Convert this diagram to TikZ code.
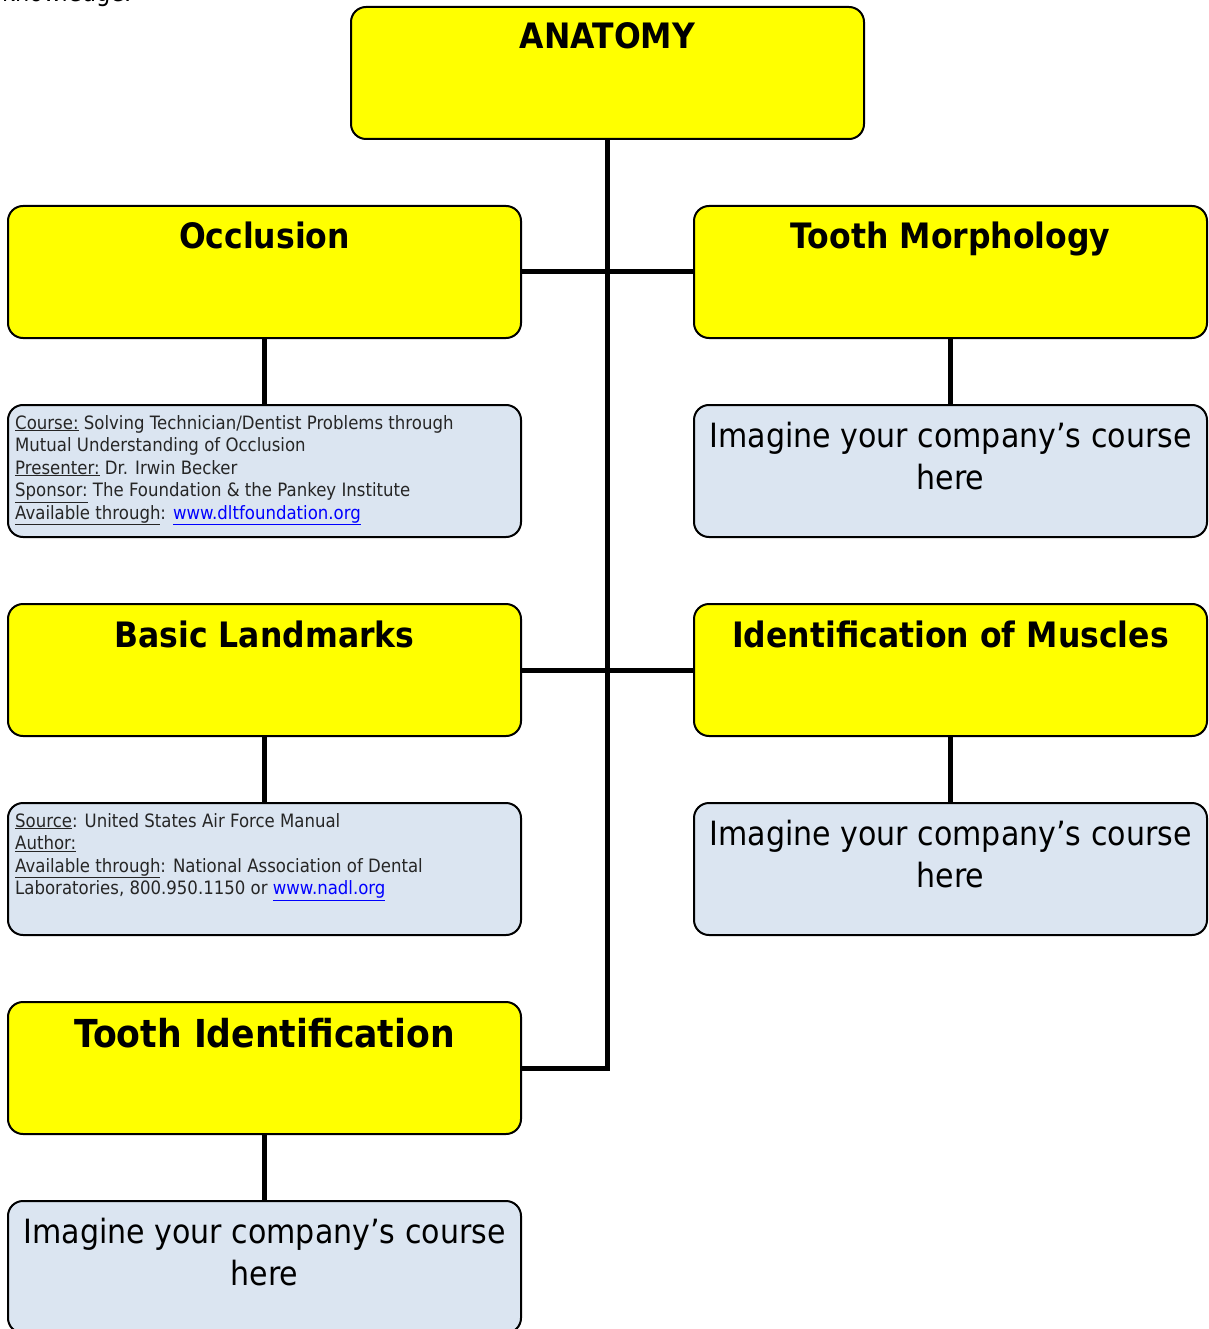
\documentclass[tikz,border=0pt]{standalone}
\usepackage{fontspec}
\setmainfont{DejaVu Sans}[FakeStretch=0.9]
\usetikzlibrary{positioning}
\definecolor{topicyellow}{RGB}{255,255,0}
\definecolor{infoblue}{RGB}{219,229,241}
\definecolor{linkblue}{RGB}{0,0,255}
\newcommand{\weblink}[1]{\textcolor{linkblue}{\underline{#1}}}
\tikzset{
  topicbox/.style={draw, line width=2pt, rounded corners=15pt, fill=topicyellow, minimum width=513pt, minimum height=132pt, inner sep=0pt},
  infobox/.style={topicbox, fill=infoblue},
  topictext/.style={inner sep=0pt, anchor=base, font=\bfseries\fontsize{35}{42}\selectfont},
  infotext/.style={inner sep=0pt, anchor=base west, align=left, text=black!85, font=\fontsize{18.4}{22.5}\selectfont},
  bigtext/.style={inner sep=0pt, anchor=base, align=center, font=\fontsize{33.4}{42}\selectfont},
  branch/.style={line width=5pt}
}
\begin{document}
\begin{tikzpicture}[x=1pt,y=-1pt]
\useasboundingbox (0,0) rectangle (1208,1329);

\node at (2,2) [anchor=base west, inner sep=0pt, font=\fontsize{25}{30}\selectfont] (intro) {knowledge.};

\node at (607.5,73) [topicbox] (anatomy) {};
\node at (264.5,272) [topicbox] (occlusion) {};
\node at (950.5,272) [topicbox] (morphology) {};
\node at (264.5,471) [infobox] (occlusion-info) {};
\node at (950.5,471) [infobox] (morphology-info) {};
\node at (264.5,670) [topicbox] (landmarks) {};
\node at (950.5,670) [topicbox] (muscles) {};
\node at (264.5,869) [infobox] (landmarks-info) {};
\node at (950.5,869) [infobox] (muscles-info) {};
\node at (264.5,1068) [topicbox] (tooth-id) {};
\node at (264.5,1267) [infobox] (tooth-id-info) {};

\node at ([yshift=-43pt]anatomy.north) [topictext] {ANATOMY};
\node at ([yshift=-44pt]occlusion.north) [topictext] {Occlusion};
\node at ([yshift=-44pt]morphology.north) [topictext] {Tooth Morphology};
\node at ([yshift=-44pt]landmarks.north) [topictext] {Basic Landmarks};
\node at ([yshift=-44pt]muscles.north) [topictext] {Identification of Muscles};
\node at ([yshift=-46pt]tooth-id.north) [topictext, font=\bfseries\fontsize{38.5}{46}\selectfont] {Tooth Identification};

\node at ([xshift=8pt,yshift=-115pt]occlusion-info.north west) [infotext] {\underline{Course:} Solving Technician/Dentist Problems through\\Mutual Understanding of Occlusion\\\underline{Presenter:} Dr. Irwin Becker\\\underline{Sponsor:} The Foundation \& the Pankey Institute\\\underline{Available through}: \weblink{www.dltfoundation.org}};
\node at ([xshift=8pt,yshift=-92.5pt]landmarks-info.north west) [infotext] {\underline{Source}: United States Air Force Manual\\\underline{Author:}\\\underline{Available through}: National Association of Dental\\Laboratories, 800.950.1150 or \weblink{www.nadl.org}};
\node at ([yshift=-85pt]morphology-info.north) [bigtext] {Imagine your company’s course\\here};
\node at ([yshift=-85pt]muscles-info.north) [bigtext] {Imagine your company’s course\\here};
\node at ([yshift=-85pt]tooth-id-info.north) [bigtext] {Imagine your company’s course\\here};

\draw [branch] (anatomy.south) -- (anatomy.south |- tooth-id.east) -- (tooth-id.east);
\draw [branch] (occlusion.east) -- (morphology.west);
\draw [branch] (landmarks.east) -- (muscles.west);
\draw [branch] (occlusion.south) -- (occlusion-info.north);
\draw [branch] (morphology.south) -- (morphology-info.north);
\draw [branch] (landmarks.south) -- (landmarks-info.north);
\draw [branch] (muscles.south) -- (muscles-info.north);
\draw [branch] (tooth-id.south) -- (tooth-id-info.north);
\end{tikzpicture}
\end{document}
